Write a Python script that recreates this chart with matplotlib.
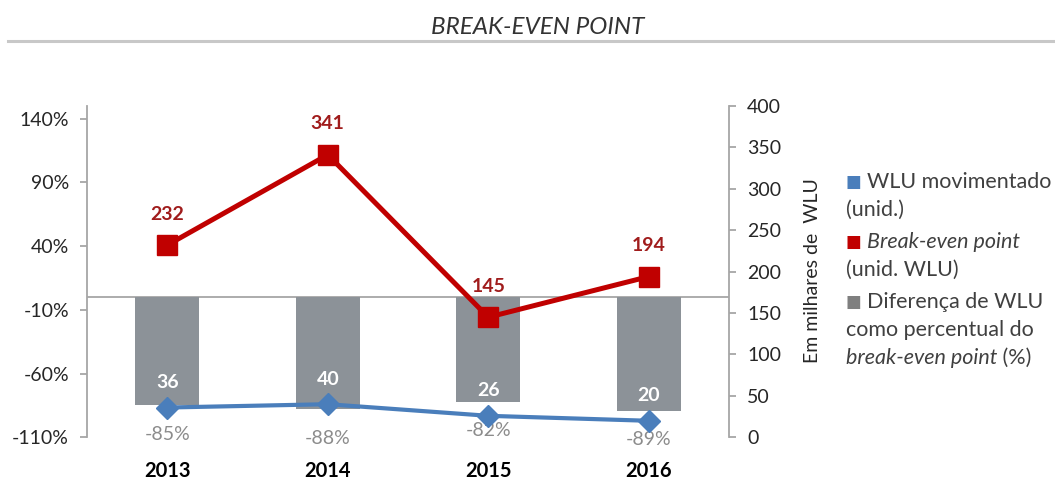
import matplotlib
matplotlib.use("Agg")
import matplotlib.pyplot as plt
import numpy as np

plt.rcParams['font.family'] = ['Lato', 'DejaVu Sans']

anos = ['2013', '2014', '2015', '2016']
wlu_movimentado = [36, 40, 26, 20]          # milhares de WLU
break_even = [232, 341, 145, 194]           # milhares de WLU
diferenca_pct = [-85, -88, -82, -89]        # %

left_ticks = [-110, -60, -10, 40, 90, 140]
right_ticks = [0, 50, 100, 150, 200, 250, 300, 350, 400]

cor_azul = '#4A7EBB'
cor_vermelho = '#C00000'
cor_vermelho_txt = '#A01C1C'
cor_cinza = '#8C9298'
cor_eixo = '#A6A6A6'
cor_txt = '#262626'

fig = plt.figure(figsize=(10.55, 4.97), dpi=100)
ax = fig.add_axes([0.0825, 0.12, 0.6085, 0.667])
ax2 = ax.twinx()

x = np.arange(len(anos))

# barras (eixo esquerdo, %)
ax.bar(x, diferenca_pct, width=0.4, color=cor_cinza, zorder=2)
ax.axhline(0, color=cor_eixo, lw=1.3, zorder=1)
ax.set_xlim(-0.5, len(anos) - 0.5)
ax.set_ylim(-110, 150)
ax.set_yticks(left_ticks)
ax.set_yticklabels([f'{t}%' for t in left_ticks])
for i, v in enumerate(diferenca_pct):
    ax.annotate(f'{v}%', (x[i], v), xytext=(0, -29), textcoords='offset pixels',
                ha='center', va='center', fontsize=14, color='#8C8C8C')

# linhas (eixo direito, milhares)
ax2.plot(x, break_even, color=cor_vermelho, lw=3.6, marker='s', ms=14, zorder=3)
ax2.plot(x, wlu_movimentado, color=cor_azul, lw=3.0, marker='D', ms=11, zorder=3)
ax2.set_ylim(0, 400)
ax2.set_yticks(right_ticks)
for i, v in enumerate(break_even):
    ax2.annotate(str(v), (x[i], v), xytext=(0, 31), textcoords='offset pixels',
                 ha='center', va='center', fontsize=14, fontweight='bold',
                 color=cor_vermelho_txt)
for i, v in enumerate(wlu_movimentado):
    ax2.annotate(str(v), (x[i], v), xytext=(0, 25), textcoords='offset pixels',
                 ha='center', va='center', fontsize=14, fontweight='bold',
                 color='white')

# eixos
ax.set_xticks(x)
ax.set_xticklabels(anos, fontweight='bold', fontsize=14.5, color='black')
ax.tick_params(axis='x', length=0, pad=17)
for a in (ax, ax2):
    for s in ('top', 'bottom'):
        a.spines[s].set_visible(False)
ax.spines['right'].set_visible(False)
ax2.spines['left'].set_visible(False)
ax.spines['left'].set_color(cor_eixo)
ax2.spines['right'].set_color(cor_eixo)
ax.spines['left'].set_linewidth(1.3)
ax2.spines['right'].set_linewidth(1.3)
ax.tick_params(axis='y', colors=cor_eixo, labelcolor=cor_txt, labelsize=14,
               length=5, width=1.3, pad=8)
ax2.tick_params(axis='y', colors=cor_eixo, labelcolor=cor_txt, labelsize=14,
                length=5, width=1.3, pad=8)

fig.text(812 / 1055, 1 - 271 / 497, 'Em milhares de  WLU', rotation=90,
         ha='center', va='center', fontsize=14, color=cor_txt)

# titulo
fig.text(538 / 1055, 1 - 28 / 497, 'BREAK-EVEN POINT', ha='center', va='center',
         fontsize=17.5, style='italic', color='#333333')
fig.add_artist(plt.Line2D([8 / 1055, 1], [1 - 41 / 497] * 2, color='#C8C8C8', lw=2.2))

# legenda (texto com partes em italico)
leg_fs = 15.5
lx_box = 853 / 1055
lx_txt = 867 / 1055
lx_cont = 846 / 1055
linhas = [
    (182, cor_azul, [('WLU movimentado', 'normal')]),
    (210, None, [('(unid.)', 'normal')]),
    (242, cor_vermelho, [('Break-even point', 'italic')]),
    (270, None, [('(unid. WLU)', 'normal')]),
    (302, '#7F7F7F', [('Diferença de WLU', 'normal')]),
    (330, None, [('como percentual do', 'normal')]),
    (358, None, [('break-even point', 'italic'), ('\u00a0(%)', 'normal')]),
]
for ypx, cor, partes in linhas:
    y = 1 - ypx / 497
    if cor is not None:
        fig.text(lx_box, y, '■', color=cor, ha='center', va='center', fontsize=12,
                 family='DejaVu Sans')
        x0 = lx_txt
    else:
        x0 = lx_cont
    prev = fig.text(x0, y, partes[0][0], ha='left', va='center', fontsize=leg_fs,
                    style=partes[0][1], color='#404040')
    for txt, st in partes[1:]:
        prev = ax2.annotate(txt, xy=(1, 0.5), xycoords=prev, ha='left', va='center',
                            fontsize=leg_fs, style=st, color='#404040',
                            annotation_clip=False)

fig.savefig('out.png', dpi=100)
